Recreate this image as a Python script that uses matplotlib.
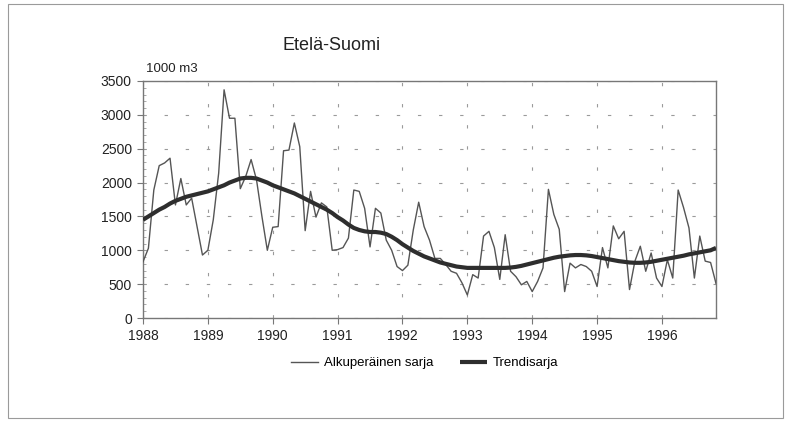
import matplotlib
matplotlib.use("Agg")
import matplotlib.pyplot as plt
from matplotlib.patches import Rectangle
import numpy as np

plt.rcParams['font.family'] = ['Liberation Sans', 'DejaVu Sans']

title = "Etelä-Suomi"
unit_label = "1000 m3"
series_labels = ["Alkuperäinen sarja", "Trendisarja"]
start_year = 1988
year_ticks = [1988, 1989, 1990, 1991, 1992, 1993, 1994, 1995, 1996]
y_ticks = [0, 500, 1000, 1500, 2000, 2500, 3000, 3500]

# monthly values, Jan 1988 ->
original = [
    830, 1030, 1890, 2250, 2290, 2360, 1670, 2060, 1670, 1770, 1350, 930,
    1000, 1450, 2140, 3370, 2950, 2950, 1910, 2090, 2340, 2040, 1500, 1000,
    1340, 1350, 2470, 2480, 2880, 2530, 1290, 1870, 1490, 1700, 1640, 1000,
    1010, 1040, 1180, 1890, 1870, 1620, 1050, 1620, 1550, 1150, 1000, 760,
    700, 780, 1300, 1710, 1350, 1150, 880, 880, 790, 690, 660, 520,
    340, 640, 590, 1210, 1280, 1040, 570, 1230, 690, 610, 490, 540,
    390, 540, 740, 1900, 1530, 1310, 390, 810, 740, 790, 760, 690,
    465, 1040, 740, 1360, 1170, 1280, 420, 840, 1060, 690, 960, 590,
    465, 860, 590, 1890, 1630, 1330, 590, 1210, 840, 820, 510,
]
trend = [
    1450, 1500, 1550, 1600, 1640, 1690, 1730, 1760, 1790, 1810, 1830, 1850,
    1870, 1900, 1930, 1960, 2000, 2030, 2060, 2070, 2070, 2060, 2030, 2000,
    1960, 1930, 1900, 1870, 1840, 1800, 1760, 1720, 1680, 1640, 1600, 1550,
    1490, 1440, 1380, 1330, 1300, 1280, 1270, 1270, 1260, 1240, 1200, 1150,
    1090, 1040, 990, 950, 910, 880, 850, 820, 800, 780, 760, 750,
    740, 740, 740, 740, 740, 740, 740, 740, 745, 755, 770, 790,
    810, 830, 850, 870, 890, 905, 915, 925, 930, 930, 925, 915,
    900, 885, 870, 855, 840, 830, 820, 815, 815, 820, 830, 845,
    860, 875, 890, 905, 920, 940, 955, 970, 985, 1000, 1035,
]

W, H = 791, 422
fig = plt.figure(figsize=(W / 100, H / 100), dpi=100)

# outer frame
fig.patches.append(Rectangle((8 / W, 4 / H), 775 / W, 414 / H, transform=fig.transFigure,
                             fill=False, edgecolor="#9a9a9a", linewidth=0.8))

left, right, top, bottom = 143, 716, 81, 318
ax = fig.add_axes([left / W, 1 - bottom / H, (right - left) / W, (bottom - top) / H])

x = start_year + np.arange(len(original)) / 12.0
ax.plot(x, original, color="#555555", linewidth=1.0, label=series_labels[0], zorder=3)
ax.plot(x, trend, color="#2e2e2e", linewidth=3.0, label=series_labels[1], zorder=4,
        solid_capstyle="butt")

ax.set_xlim(x[0], x[-1])
ax.set_ylim(0, 3500)
ax.set_xticks(year_ticks)
ax.set_xticklabels([str(y) for y in year_ticks])
ax.set_yticks(y_ticks)
ax.set_yticklabels([str(v) for v in y_ticks])
ax.tick_params(axis="both", labelsize=10, colors="#222222", length=4, width=0.8,
               direction="out", pad=4)
ax.tick_params(axis="both", colors="#777777", labelcolor="#222222")
ax.set_yticks(np.arange(0, 3501, 100), minor=True)
ax.tick_params(axis="y", which="minor", length=2, width=0.5, direction="in", colors="#888888")

ax.grid(True, which="major", color="#9a9a9a", linewidth=0.8, linestyle=(0, (3, 16)))
for s in ax.spines.values():
    s.set_color("#777777")
    s.set_linewidth(1.0)

fig.text(332 / W, 1 - 45 / H, title, ha="center", va="center", fontsize=13, color="#222222")
fig.text(146 / W, 1 - 69 / H, unit_label, ha="left", va="center", fontsize=9.5, color="#222222")

fig.legend(loc="center", bbox_to_anchor=(425 / W, 1 - 363 / H), ncol=2, frameon=False,
           fontsize=9.5, handlelength=2.0, columnspacing=2.0, handletextpad=0.5)

fig.savefig("out.png", dpi=100)
